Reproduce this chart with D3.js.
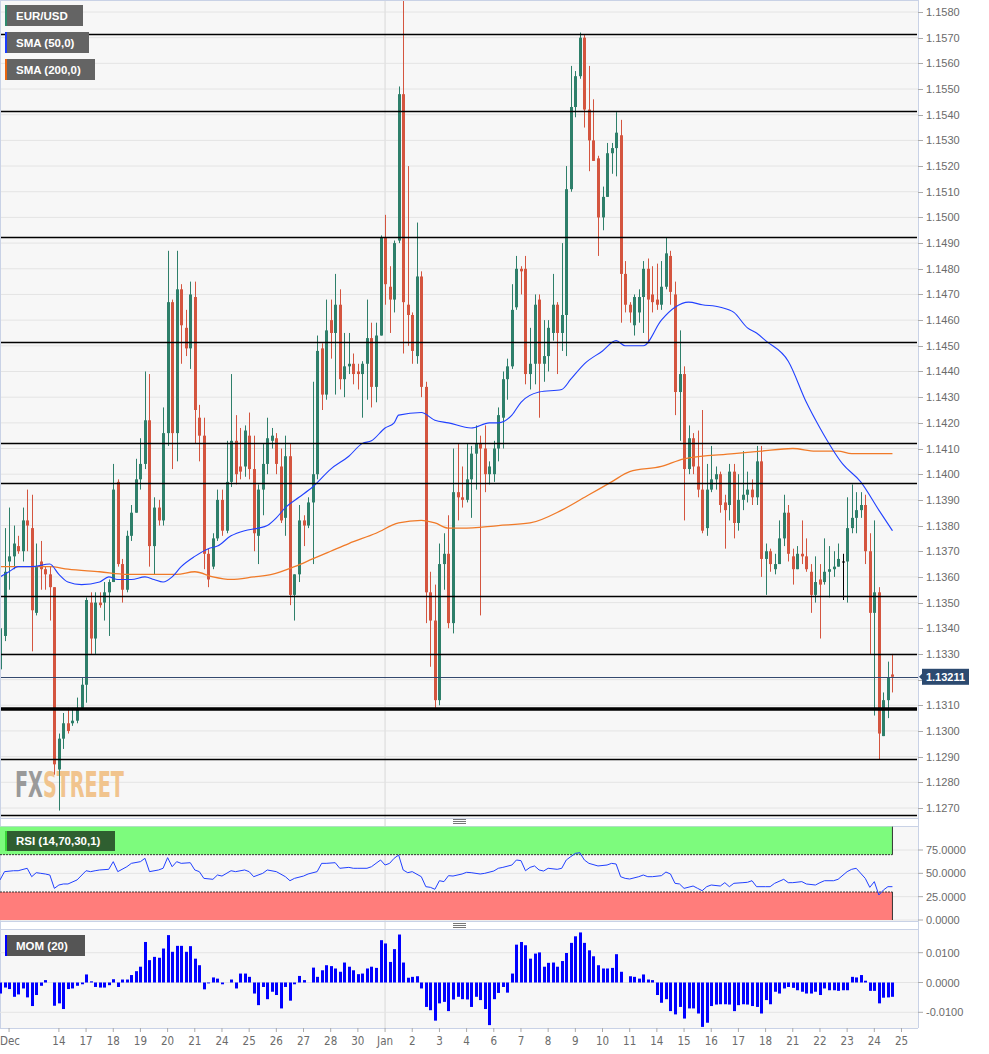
<!DOCTYPE html>
<html><head><meta charset="utf-8">
<script src="https://cdn.jsdelivr.net/npm/d3@7"></script>
<style>
body{margin:0;background:#fff;}
svg{display:block;font-family:"Liberation Sans",Arial,sans-serif;}
</style></head><body>
<svg id="c" width="989" height="1054"></svg>
<script>
// ---------- DATA ----------
const opens=[1.1324,1.1337,1.1366,1.1368,1.1372,1.1370,1.1382,1.1379,1.1346,1.1366,
1.1363,1.1361,1.1356,1.1285,1.1297,1.1303,1.1303,1.1304,1.1309,1.1318,
1.1350,1.1336,1.1350,1.1350,1.1354,1.1358,1.1397,1.1365,1.1355,1.1376,
1.1385,1.1398,1.1404,1.1421,1.1372,1.1387,1.1382,1.1416,1.1467,1.1416,
1.1472,1.1457,1.1449,1.1469,1.1422,1.1415,1.1369,1.1364,1.1375,1.1390,
1.1378,1.1397,1.1413,1.1403,1.1403,1.1415,1.1402,1.1376,1.1394,1.1404,
1.1413,1.1414,1.1403,1.1383,1.1407,1.1353,1.1361,1.1382,1.1380,1.1389,
1.1400,1.1449,1.1431,1.1460,1.1455,1.1466,1.1437,1.1442,1.1443,1.1440,
1.1439,1.1443,1.1453,1.1434,1.1454,1.1492,1.1473,1.1468,1.1491,1.1548,
1.1466,1.1462,1.1446,1.1477,1.1434,1.1354,1.1343,1.1312,1.1365,1.1369,
1.1342,1.1393,1.1391,1.1390,1.1398,1.1408,1.1412,1.1410,1.1400,1.1400,
1.1410,1.1422,1.1437,1.1442,1.1465,1.1480,1.1480,1.1439,1.1443,1.1468,
1.1443,1.1446,1.1455,1.1466,1.1455,1.1462,1.1511,1.1543,1.1555,1.1570,
1.1542,1.1530,1.1523,1.1500,1.1508,1.1525,1.1527,1.1532,1.1478,1.1466,
1.1458,1.1463,1.1469,1.1480,1.1470,1.1468,1.1466,1.1473,1.1485,1.1470,
1.1432,1.1439,1.1402,1.1414,1.1403,1.1394,1.1379,1.1394,1.1398,1.1400,
1.1389,1.1388,1.1401,1.1381,1.1390,1.1392,1.1394,1.1391,1.1405,1.1367,
1.1370,1.1363,1.1365,1.1375,1.1385,1.1368,1.1363,1.1369,1.1368,1.1362,
1.1353,1.1359,1.1358,1.1362,1.1363,1.1364,1.1366,1.1366,1.1379,1.1383,
1.1386,1.1388,1.1370,1.1346,1.1354,1.1298,1.1312,1.1322];
const highs=[1.1342,1.1379,1.1387,1.1380,1.1376,1.1387,1.1394,1.1392,1.1373,1.1374,
1.1364,1.1364,1.1356,1.1299,1.1307,1.1309,1.1309,1.1313,1.1321,1.1352,
1.1354,1.1354,1.1354,1.1358,1.1359,1.1404,1.1398,1.1367,1.1378,1.1388,
1.1406,1.1414,1.1440,1.1439,1.1391,1.1390,1.1426,1.1487,1.1468,1.1487,
1.1474,1.1464,1.1475,1.1475,1.1427,1.1422,1.1371,1.1377,1.1394,1.1394,
1.1413,1.1439,1.1423,1.1418,1.1419,1.1424,1.1415,1.1396,1.1412,1.1422,
1.1418,1.1416,1.1410,1.1415,1.1412,1.1361,1.1388,1.1384,1.1391,1.1436,
1.1454,1.1451,1.1468,1.1468,1.1478,1.1472,1.1455,1.1455,1.1447,1.1443,
1.1444,1.1468,1.1459,1.1459,1.1493,1.1501,1.1481,1.1491,1.1551,1.1588,
1.1520,1.1463,1.1498,1.1479,1.1436,1.1362,1.1357,1.1373,1.1377,1.1384,
1.1410,1.1412,1.1403,1.1412,1.1411,1.1419,1.1415,1.1419,1.1405,1.1413,
1.1426,1.1440,1.1445,1.1474,1.1485,1.1481,1.1485,1.1457,1.1470,1.1470,
1.1460,1.1460,1.1478,1.1467,1.1490,1.1520,1.1559,1.1557,1.1572,1.1571,
1.1559,1.1546,1.1524,1.1512,1.1529,1.1529,1.1541,1.1538,1.1483,1.1467,
1.1470,1.1472,1.1483,1.1484,1.1481,1.1482,1.1483,1.1492,1.1487,1.1475,
1.1456,1.1442,1.1419,1.1416,1.1417,1.1425,1.1404,1.1411,1.1403,1.1401,
1.1392,1.1404,1.1404,1.1400,1.1409,1.1401,1.1398,1.1411,1.1411,1.1373,
1.1371,1.1369,1.1382,1.1392,1.1388,1.1371,1.1372,1.1382,1.1375,1.1365,
1.1368,1.1365,1.1375,1.1372,1.1370,1.1373,1.1369,1.1391,1.1396,1.1393,
1.1393,1.1392,1.1377,1.1382,1.1356,1.1315,1.1327,1.1330];
const lows=[1.1316,1.1335,1.1355,1.1363,1.1369,1.1366,1.1370,1.1331,1.1345,1.1355,
1.1355,1.1343,1.1283,1.1269,1.1293,1.1299,1.1302,1.1303,1.1309,1.1311,
1.1330,1.1330,1.1348,1.1343,1.1337,1.1358,1.1364,1.1350,1.1354,1.1374,
1.1385,1.1394,1.1402,1.1364,1.1361,1.1380,1.1380,1.1411,1.1402,1.1405,
1.1443,1.1446,1.1441,1.1412,1.1405,1.1363,1.1356,1.1363,1.1374,1.1376,
1.1377,1.1395,1.1396,1.1398,1.1399,1.1398,1.1370,1.1365,1.1384,1.1400,
1.1410,1.1400,1.1381,1.1376,1.1349,1.1343,1.1358,1.1372,1.1379,1.1365,
1.1398,1.1425,1.1429,1.1445,1.1431,1.1433,1.1430,1.1439,1.1435,1.1433,
1.1422,1.1429,1.1426,1.1428,1.1454,1.1466,1.1455,1.1463,1.1490,1.1447,
1.1450,1.1443,1.1443,1.1430,1.1342,1.1325,1.1309,1.1310,1.1355,1.1340,
1.1338,1.1382,1.1387,1.1389,1.1383,1.1394,1.1345,1.1393,1.1396,1.1397,
1.1405,1.1410,1.1429,1.1441,1.1464,1.1470,1.1435,1.1433,1.1435,1.1422,
1.1436,1.1440,1.1452,1.1439,1.1448,1.1446,1.1510,1.1539,1.1554,1.1535,
1.1518,1.1522,1.1485,1.1495,1.1508,1.1517,1.1516,1.1459,1.1463,1.1459,
1.1454,1.1459,1.1455,1.1451,1.1463,1.1464,1.1464,1.1472,1.1466,1.1423,
1.1413,1.1382,1.1400,1.1400,1.1391,1.1377,1.1376,1.1393,1.1394,1.1385,
1.1371,1.1382,1.1375,1.1378,1.1386,1.1389,1.1388,1.1388,1.1360,1.1353,
1.1362,1.1361,1.1365,1.1372,1.1366,1.1357,1.1363,1.1365,1.1362,1.1346,
1.1350,1.1336,1.1357,1.1352,1.1360,1.1364,1.1351,1.1350,1.1377,1.1377,
1.1383,1.1365,1.1330,1.1306,1.1289,1.1298,1.1305,1.1315];
const closes=[1.1340,1.1362,1.1368,1.1373,1.1370,1.1382,1.1380,1.1347,1.1364,1.1363,
1.1361,1.1356,1.1287,1.1297,1.1303,1.1300,1.1304,1.1309,1.1318,1.1351,
1.1336,1.1350,1.1349,1.1354,1.1358,1.1394,1.1365,1.1355,1.1376,1.1385,
1.1398,1.1404,1.1421,1.1372,1.1387,1.1382,1.1416,1.1467,1.1416,1.1472,
1.1458,1.1449,1.1470,1.1425,1.1415,1.1369,1.1359,1.1375,1.1390,1.1378,
1.1397,1.1413,1.1400,1.1401,1.1417,1.1402,1.1377,1.1394,1.1404,1.1414,
1.1415,1.1404,1.1382,1.1407,1.1353,1.1361,1.1382,1.1380,1.1389,1.1400,
1.1448,1.1431,1.1456,1.1455,1.1466,1.1437,1.1442,1.1443,1.1439,1.1439,
1.1443,1.1453,1.1434,1.1454,1.1492,1.1474,1.1468,1.1490,1.1548,1.1467,
1.1462,1.1448,1.1477,1.1434,1.1354,1.1343,1.1312,1.1365,1.1369,1.1342,
1.1393,1.1391,1.1390,1.1398,1.1408,1.1412,1.1410,1.1400,1.1403,1.1410,
1.1423,1.1437,1.1442,1.1464,1.1480,1.1479,1.1439,1.1443,1.1466,1.1443,
1.1446,1.1457,1.1466,1.1455,1.1462,1.1511,1.1543,1.1555,1.1570,1.1542,
1.1530,1.1522,1.1500,1.1508,1.1525,1.1527,1.1533,1.1478,1.1466,1.1463,
1.1469,1.1469,1.1480,1.1468,1.1467,1.1466,1.1473,1.1486,1.1471,1.1432,
1.1439,1.1402,1.1414,1.1403,1.1394,1.1378,1.1394,1.1398,1.1400,1.1388,
1.1386,1.1401,1.1381,1.1390,1.1392,1.1394,1.1391,1.1405,1.1367,1.1370,
1.1365,1.1365,1.1375,1.1385,1.1369,1.1363,1.1369,1.1368,1.1363,1.1353,
1.1358,1.1357,1.1362,1.1363,1.1364,1.1367,1.1366,1.1379,1.1383,1.1386,
1.1388,1.1370,1.1346,1.1354,1.1299,1.1312,1.1321,1.13211];

const sma50Idx=[0,2,4,7,11,13,15,18,22,24,26,29,32,34,36,38,40,43,46,48,51,54,57,59,61,63,66,69,73,77,80,82,85,87,88,93,96,99,104,108,110,113,115,119,124,126,129,133,136,138,142,146,149,152,155,159,162,165,167,169,174,178,181,186,190,194,197];
const sma50=[1.1360,1.1362,1.1364,1.1364,1.1365,1.1361,1.1358,1.1357,1.1358,1.1360,1.1359,1.1359,1.1360,1.1359,1.1358,1.1360,1.1364,1.1368,1.1371,1.1372,1.1376,1.1378,1.1379,1.1380,1.1383,1.1387,1.1391,1.1395,1.1402,1.1407,1.1412,1.1413,1.1418,1.1420,1.1423,1.1424,1.1421,1.1420,1.1418,1.1420,1.1420,1.1423,1.1428,1.1432,1.1433,1.1437,1.1443,1.1448,1.1452,1.1450,1.1450,1.1460,1.1465,1.1467,1.1466,1.1465,1.1463,1.1457,1.1455,1.1452,1.1444,1.1428,1.1418,1.1404,1.1397,1.1386,1.1378];
const sma200Idx=[0,4,11,15,22,28,33,39,43,47,51,56,60,65,69,73,77,83,88,93,96,99,102,110,117,124,130,135,139,146,151,162,168,175,180,185,188,191,197];
const sma200=[1.1364,1.1364,1.1364,1.1363,1.1362,1.1361,1.1361,1.1361,1.1362,1.1360,1.1359,1.1360,1.1361,1.1364,1.1367,1.1370,1.1373,1.1377,1.1381,1.1382,1.1381,1.1379,1.1379,1.1380,1.1381,1.1386,1.1392,1.1397,1.1401,1.1403,1.1406,1.1408,1.1409,1.1410,1.1409,1.1409,1.1408,1.1408,1.1408];

const rsiIdx=[0,1,3,4,6,7,8,9,10,11,12,13,14,15,17,19,20,21,22,24,25,26,28,29,31,32,33,35,36,37,38,39,40,42,43,44,45,47,48,49,51,52,54,55,56,58,59,61,63,64,65,67,68,70,71,72,74,75,77,78,79,81,82,84,85,86,87,88,89,90,91,93,94,95,96,97,98,99,100,102,103,104,106,107,109,110,111,113,114,115,116,117,118,119,120,121,123,124,125,126,127,128,129,130,132,134,135,136,137,138,139,141,142,143,144,146,147,148,149,150,151,153,154,155,156,157,159,160,161,162,164,165,166,167,169,170,171,173,174,175,177,178,180,181,182,184,185,187,188,189,191,192,193,194,195,196,197];
const rsiVal=[42.9,51.8,52.8,52.8,55.4,46.4,50.7,50.0,49.3,48.2,33.9,37.5,38.6,38.6,42.9,52.8,51.8,52.8,53.6,54.3,62.5,51.8,57.1,60.7,62.5,66.1,51.8,53.6,55.4,66.8,57.1,62.5,60.7,61.4,53.6,51.8,44.6,43.6,48.2,47.1,52.8,51.8,53.6,51.8,46.4,50.0,53.6,51.8,46.4,42.1,44.6,47.1,49.3,51.8,60.7,60.7,61.4,55.4,56.4,55.4,55.4,55.4,57.1,64.3,58.9,60.7,66.1,69.6,53.6,50.7,51.8,46.4,35.7,35.0,32.9,42.1,41.1,47.5,47.1,49.3,51.1,50.7,49.3,50.0,52.5,55.4,56.4,58.9,64.3,63.6,52.8,56.4,57.9,53.6,52.5,55.4,54.3,55.4,64.3,67.9,71.4,72.1,64.3,60.7,57.9,58.9,60.7,60.0,46.4,44.6,43.9,46.4,48.2,46.4,46.4,47.5,51.4,49.3,39.3,38.6,33.9,36.4,33.9,31.4,35.7,37.5,36.4,40.0,35.7,39.3,40.0,40.4,42.1,35.7,35.7,35.7,39.3,43.6,40.0,40.0,41.1,38.6,37.5,40.0,42.1,42.1,43.6,51.8,54.3,55.4,44.6,35.0,41.1,26.8,32.1,35.7,35.7];

const mom=[-0.0037,-0.0017,-0.0022,-0.0048,-0.0040,-0.0020,-0.0050,-0.0079,-0.0042,-0.0011,
0.0008,0.0000,-0.0078,-0.0070,-0.0089,-0.0022,-0.0020,-0.0011,-0.0006,0.0027,
0.0004,-0.0015,-0.0017,-0.0017,-0.0009,0.0011,-0.0015,0.0010,0.0010,0.0025,
0.0038,0.0053,0.0136,0.0075,0.0086,0.0083,0.0114,0.0159,0.0103,0.0123,
0.0123,0.0103,0.0122,0.0080,0.0058,-0.0023,-0.0003,0.0017,0.0013,-0.0006,
0.0000,0.0010,-0.0020,0.0030,0.0030,0.0019,-0.0037,-0.0076,-0.0015,-0.0056,
-0.0031,-0.0042,-0.0087,-0.0015,-0.0061,-0.0006,0.0022,0.0008,0.0000,0.0050,
0.0019,0.0041,0.0058,0.0055,0.0047,0.0036,0.0067,0.0053,0.0041,0.0028,
0.0030,0.0047,0.0053,0.0049,0.0142,0.0131,0.0069,0.0112,0.0161,0.0067,
0.0016,0.0019,0.0021,-0.0020,-0.0082,-0.0093,-0.0128,-0.0070,-0.0065,-0.0096,
-0.0057,-0.0048,-0.0056,-0.0057,-0.0082,-0.0048,-0.0059,-0.0089,-0.0143,-0.0056,
-0.0035,-0.0015,-0.0034,0.0030,0.0127,0.0136,0.0125,0.0080,0.0097,0.0101,
0.0053,0.0066,0.0067,0.0053,0.0072,0.0099,0.0133,0.0155,0.0168,0.0133,
0.0108,0.0088,0.0058,0.0047,0.0047,0.0049,0.0095,0.0036,0.0000,0.0021,
0.0019,0.0013,0.0027,0.0010,0.0008,-0.0042,-0.0068,-0.0056,-0.0096,-0.0107,
-0.0082,-0.0121,-0.0087,-0.0087,-0.0104,-0.0149,-0.0135,-0.0079,-0.0074,-0.0073,
-0.0073,-0.0074,-0.0096,-0.0076,-0.0073,-0.0074,-0.0079,-0.0082,-0.0104,-0.0059,
-0.0073,-0.0031,-0.0037,-0.0020,-0.0015,-0.0018,-0.0026,-0.0031,-0.0037,-0.0037,
-0.0031,-0.0042,-0.0020,-0.0026,-0.0026,-0.0028,-0.0026,-0.0026,0.0019,0.0017,
0.0025,0.0006,-0.0028,-0.0028,-0.0070,-0.0051,-0.0050,-0.0048];

const levelLines=[1.15714,1.15415,1.14924,1.14515,1.14122,1.13966,1.13526,1.13300,1.12891,1.12673];
const boldLevel=1.13086;
const lastPrice=1.13211;
const dayLabels=["Dec","14","17","18","19","20","21","24","25","26","27","28","30","Jan","2","3","4","6","7","8","9","10","11","14","15","16","17","18","21","22","23","24","25"];
const dayIdx=[2,13,19,25,31,37,43,49,55,61,67,73,79,85,91,97,103,109,115,121,127,133,139,145,151,157,163,169,175,181,187,193,199];
const monthStartIdx=85;
const priceTicks=d3.range(0,32).map(k=>+(1.1270+k*0.001).toFixed(4));
const rsiTicks=[0,25,50,75];
const momTicks=[-0.01,0,0.01];

// ---------- LAYOUT ----------
const svg=d3.select("#c");
const R=918;
const x=d3.scaleLinear().domain([0,199]).range([0,901.5]);
const y=d3.scaleLinear().domain([1.1270,1.1580]).range([808,12]);
const yR=d3.scaleLinear().domain([0,75]).range([920,850]);
const yM=d3.scaleLinear().domain([-0.01,0.01]).range([1012.3,952.7]);
const border="#c9d2e6", grid="#e4e4e4", axisTxt="#6b6b6b";
const GREEN="#2e7f6a", RED="#d4553f";

svg.append("rect").attr("width",989).attr("height",1054).attr("fill","#fff");
[[0,818],[826,921],[929,1028]].forEach(([a,b])=>{
  svg.append("rect").attr("x",0).attr("y",a).attr("width",R).attr("height",b-a).attr("fill","#f7f7f7");
});
svg.append("defs").append("clipPath").attr("id","mainClip").append("rect").attr("x",0).attr("y",0).attr("width",R).attr("height",818);

svg.append("g").selectAll("line").data(priceTicks).join("line")
  .attr("x1",0).attr("x2",R).attr("y1",d=>y(d)).attr("y2",d=>y(d)).attr("stroke",grid).attr("stroke-width",1);
svg.append("line").attr("x1",x(monthStartIdx)).attr("x2",x(monthStartIdx)).attr("y1",0).attr("y2",1028).attr("stroke","#e2e2e2").attr("stroke-width",1.5);

// watermark (behind candles), scaled horizontally via a group transform
const wmG=svg.append("g");
const wm=wmG.append("text").attr("x",0).attr("y",0)
  .attr("font-family","'Liberation Sans Narrow','DejaVu Sans Condensed',sans-serif")
  .attr("font-weight","bold").attr("font-size",36);
wm.append("tspan").text("FX").attr("fill","#9a9a9a");
wm.append("tspan").text("STREET").attr("fill","#f1c48e");
const wmW=wm.node().getComputedTextLength()||150;
wmG.attr("transform",`translate(15,797) scale(${109/wmW},1)`);

// candles
const N=closes.length;
const idx=d3.range(N);
const cg=svg.append("g").attr("clip-path","url(#mainClip)");
const col=i=>closes[i]>opens[i]?GREEN:(closes[i]<opens[i]?RED:"#000");
cg.selectAll("line.w").data(idx).join("line").attr("class","w")
  .attr("x1",i=>Math.round(x(i))+0.5).attr("x2",i=>Math.round(x(i))+0.5)
  .attr("y1",i=>y(highs[i])).attr("y2",i=>y(lows[i])).attr("stroke",col).attr("stroke-width",1);
cg.selectAll("rect.b").data(idx).join("rect").attr("class","b")
  .attr("x",i=>Math.round(x(i))-1).attr("width",3)
  .attr("y",i=>y(Math.max(opens[i],closes[i])))
  .attr("height",i=>Math.max(1,Math.abs(y(opens[i])-y(closes[i]))))
  .attr("fill",col);

const lineMain=d3.line().x(d=>x(d[0])).y(d=>y(d[1])).curve(d3.curveMonotoneX);
cg.append("path").datum(sma200Idx.map((d,k)=>[d,sma200[k]])).attr("d",lineMain).attr("fill","none").attr("stroke","#f07a28").attr("stroke-width",1.3);
cg.append("path").datum(sma50Idx.map((d,k)=>[d,sma50[k]])).attr("d",lineMain).attr("fill","none").attr("stroke","#2040ff").attr("stroke-width",1.1);

svg.append("g").selectAll("line").data(levelLines).join("line")
  .attr("x1",0).attr("x2",R-1).attr("y1",d=>Math.round(y(d))+0.5).attr("y2",d=>Math.round(y(d))+0.5).attr("stroke","#000").attr("stroke-width",1.4);
svg.append("line").attr("x1",0).attr("x2",R-1).attr("y1",y(boldLevel)).attr("y2",y(boldLevel)).attr("stroke","#000").attr("stroke-width",3.5);
svg.append("line").attr("x1",0).attr("x2",R).attr("y1",Math.round(y(lastPrice))+0.5).attr("y2",Math.round(y(lastPrice))+0.5).attr("stroke","#34496e").attr("stroke-width",1);

function legend(x0,y0,w,h,txt,bar,bg){
  svg.append("rect").attr("x",x0).attr("y",y0).attr("width",w).attr("height",h).attr("fill",bg);
  svg.append("rect").attr("x",x0).attr("y",y0).attr("width",2).attr("height",h).attr("fill",bar);
  svg.append("text").attr("x",x0+11).attr("y",y0+h/2+4).attr("fill","#fff").attr("font-size",11.5).attr("font-weight","bold").text(txt);
}
legend(5,5,78,21,"EUR/USD","#2e8a6c","#646464");
legend(5,32,84,21,"SMA (50,0)","#1a3cff","#646464");
legend(5,59,90,21,"SMA (200,0)","#e8650f","#646464");

// right axis
svg.append("line").attr("x1",R+0.5).attr("x2",R+0.5).attr("y1",0).attr("y2",1028).attr("stroke",border);
const ty=y(lastPrice);
const visTicks=priceTicks.filter(d=>Math.abs(y(d)-ty)>10);
const ra=svg.append("g");
ra.selectAll("line").data(priceTicks).join("line").attr("x1",R).attr("x2",R+5).attr("y1",d=>Math.round(y(d))+0.5).attr("y2",d=>Math.round(y(d))+0.5).attr("stroke","#aaa");
ra.selectAll("text").data(visTicks).join("text").attr("x",R+8).attr("y",d=>y(d)+4).attr("font-size",11).attr("fill",axisTxt).text(d=>d.toFixed(4));

svg.append("path").attr("d",`M${R+1},${ty} L${R+5},${ty-4} L${R+5},${ty+4} Z`).attr("fill","#2c4a70");
svg.append("rect").attr("x",R+4).attr("y",ty-8).attr("width",47).attr("height",16).attr("fill","#2c4a70");
svg.append("text").attr("x",R+27.5).attr("y",ty+4).attr("text-anchor","middle").attr("fill","#fff").attr("font-size",11).attr("font-weight","bold").text(lastPrice.toFixed(5));

svg.append("line").attr("x1",0).attr("x2",R).attr("y1",0.5).attr("y2",0.5).attr("stroke",border);
svg.append("line").attr("x1",0.5).attr("x2",0.5).attr("y1",0).attr("y2",1028).attr("stroke",border);
[818,826,921,929,1028].forEach(v=>svg.append("line").attr("x1",0).attr("x2",R).attr("y1",v+0.5).attr("y2",v+0.5).attr("stroke",border));

[821,925].forEach(gy=>{[-2,0,2].forEach(o=>svg.append("line").attr("x1",453).attr("x2",466).attr("y1",gy+o+0.5).attr("y2",gy+o+0.5).attr("stroke","#777")); });

// ---------- RSI ----------
svg.append("g").selectAll("line").data(rsiTicks).join("line").attr("x1",0).attr("x2",R).attr("y1",d=>yR(d)).attr("y2",d=>yR(d)).attr("stroke",grid);
const lastX=x(N-1);
svg.append("rect").attr("x",0).attr("y",yR(100)).attr("width",lastX).attr("height",yR(70)-yR(100)).attr("fill","#7dfb7d");
svg.append("rect").attr("x",0).attr("y",yR(30)).attr("width",lastX).attr("height",yR(0)-yR(30)).attr("fill","#ff7d7b");
[70,30].forEach(v=>svg.append("line").attr("x1",0).attr("x2",lastX).attr("y1",yR(v)).attr("y2",yR(v)).attr("stroke","#333").attr("stroke-dasharray","2,1"));
svg.append("line").attr("x1",lastX).attr("x2",lastX).attr("y1",yR(100)).attr("y2",yR(70)).attr("stroke","#333");
svg.append("line").attr("x1",lastX).attr("x2",lastX).attr("y1",yR(30)).attr("y2",yR(0)).attr("stroke","#333");
svg.append("path").datum(rsiIdx.map((d,k)=>[d,rsiVal[k]])).attr("d",d3.line().x(d=>x(d[0])).y(d=>yR(d[1]))).attr("fill","none").attr("stroke","#2040ff").attr("stroke-width",1);
svg.selectAll("text.rt").data(rsiTicks).join("text").attr("class","rt").attr("x",R+8).attr("y",d=>yR(d)+4).attr("font-size",11).attr("fill",axisTxt).text(d=>d.toFixed(4));
svg.selectAll("line.rtk").data(rsiTicks).join("line").attr("class","rtk").attr("x1",R).attr("x2",R+5).attr("y1",d=>yR(d)).attr("y2",d=>yR(d)).attr("stroke","#aaa");
legend(5,831,110,20,"RSI (14,70,30,1)","#39d839","#2f5f30");

// ---------- MOM ----------
svg.append("g").selectAll("line").data(momTicks).join("line").attr("x1",0).attr("x2",R).attr("y1",d=>yM(d)).attr("y2",d=>yM(d)).attr("stroke",grid);
svg.append("g").selectAll("rect").data(idx).join("rect")
  .attr("x",i=>Math.round(x(i))-1).attr("width",3)
  .attr("y",i=>Math.min(yM(0),yM(mom[i]))).attr("height",i=>Math.abs(yM(mom[i])-yM(0)))
  .attr("fill","#0000ff");
svg.selectAll("text.mt").data(momTicks).join("text").attr("class","mt").attr("x",R+8).attr("y",d=>yM(d)+4).attr("font-size",11).attr("fill",axisTxt).text(d=>d.toFixed(4));
svg.selectAll("line.mtk").data(momTicks).join("line").attr("class","mtk").attr("x1",R).attr("x2",R+5).attr("y1",d=>yM(d)).attr("y2",d=>yM(d)).attr("stroke","#aaa");
legend(5,935,80,21,"MOM (20)","#0000ff","#555555");

// ---------- X AXIS ----------
const xa=svg.append("g");
xa.selectAll("line").data(dayIdx).join("line").attr("x1",d=>x(d)).attr("x2",d=>x(d)).attr("y1",1028).attr("y2",1032).attr("stroke","#aaa");
xa.selectAll("text").data(dayLabels).join("text")
  .attr("x",(d,k)=>Math.max(x(dayIdx[k]),10)).attr("y",1045).attr("text-anchor","middle")
  .attr("font-family","'Liberation Sans Narrow','DejaVu Sans Condensed',sans-serif")
  .attr("font-size",11.5).attr("fill",axisTxt).text(d=>d);
</script>
</body></html>
